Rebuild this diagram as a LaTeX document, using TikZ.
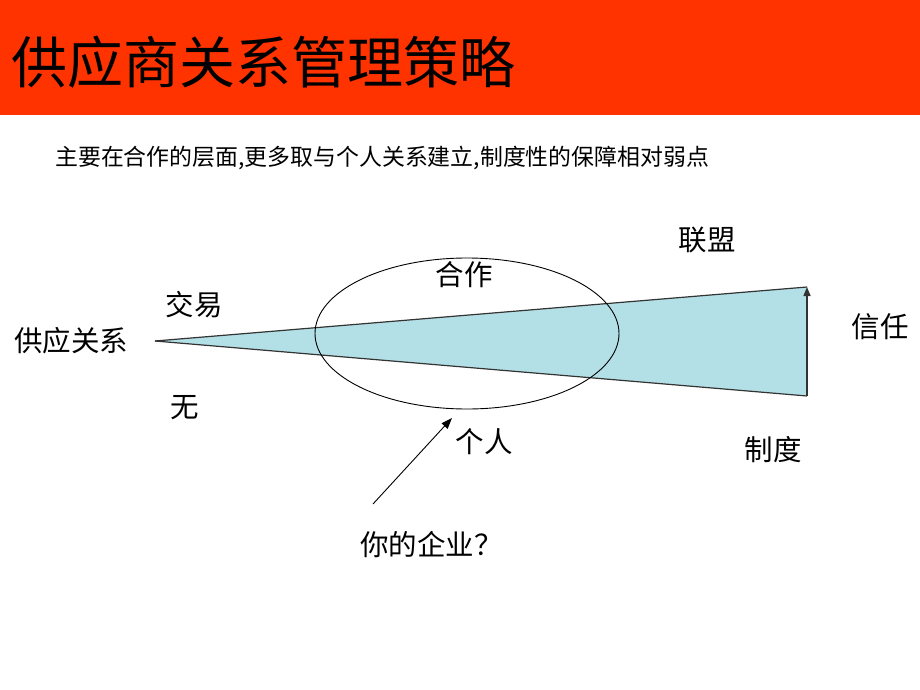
\documentclass[tikz,border=0pt]{standalone}
\usepackage{fontspec}
\setmainfont{Noto Sans CJK SC}
\usetikzlibrary{arrows.meta,shapes.geometric}
\definecolor{titlered}{HTML}{FF3300}
\definecolor{wedge}{HTML}{B3E0E6}
\tikzset{
  lbl/.style={inner sep=0pt, font=\fontsize{28.5}{30}\selectfont},
  edge/.style={draw=black!80, line width=1.2pt},
}
\begin{document}
\begin{tikzpicture}[x=1pt,y=-1pt]
\useasboundingbox (0,0) rectangle (920,690);
\fill[white] (0,0) rectangle (920,690);
\fill[titlered] (0,0) rectangle (920,115);
\node[anchor=west, inner sep=0pt, font=\fontsize{56}{60}\selectfont] (title) at (11,62) {供应商关系管理策略};
\node[anchor=west, inner sep=0pt, font=\fontsize{22.9}{25}\selectfont] (sub) at (55,158) {主要在合作的层面,更多取与个人关系建立,制度性的保障相对弱点};
% wedge
\coordinate (apex) at (155,341);
\coordinate (top) at (807,287);
\coordinate (bot) at (807,396);
\fill[wedge] (apex) -- (top) -- (bot) -- cycle;
\draw[edge] (apex) -- (top);
\draw[edge] (apex) -- (bot);
\draw[draw=black!80, line width=1.5pt, -{Triangle[length=9pt,width=7pt]}] (bot) -- (top);
% ellipse
\node[draw=black, line width=0.9pt, ellipse, minimum width=304pt, minimum height=151pt, inner sep=0pt] (ell) at (467,333.5) {};
% labels
\node[lbl] (gy) at (71,341) {供应关系};
\node[lbl] (jy) at (194,305) {交易};
\node[lbl] (hz) at (464,275) {合作};
\node[lbl] (lm) at (707,240) {联盟};
\node[lbl] (xr) at (880,327) {信任};
\node[lbl] (wu) at (185,408) {无};
\node[lbl] (gr) at (484,442) {个人};
\node[lbl] (zd) at (773,450) {制度};
\node[lbl, anchor=west] (qy) at (360,545) {你的企业？};
\coordinate (qyarr) at (373,504);
\coordinate (eltip) at (452,418);
\draw[line width=0.9pt, -{Triangle[length=11pt,width=8pt]}] (qyarr) -- (eltip);
\end{tikzpicture}
\end{document}
